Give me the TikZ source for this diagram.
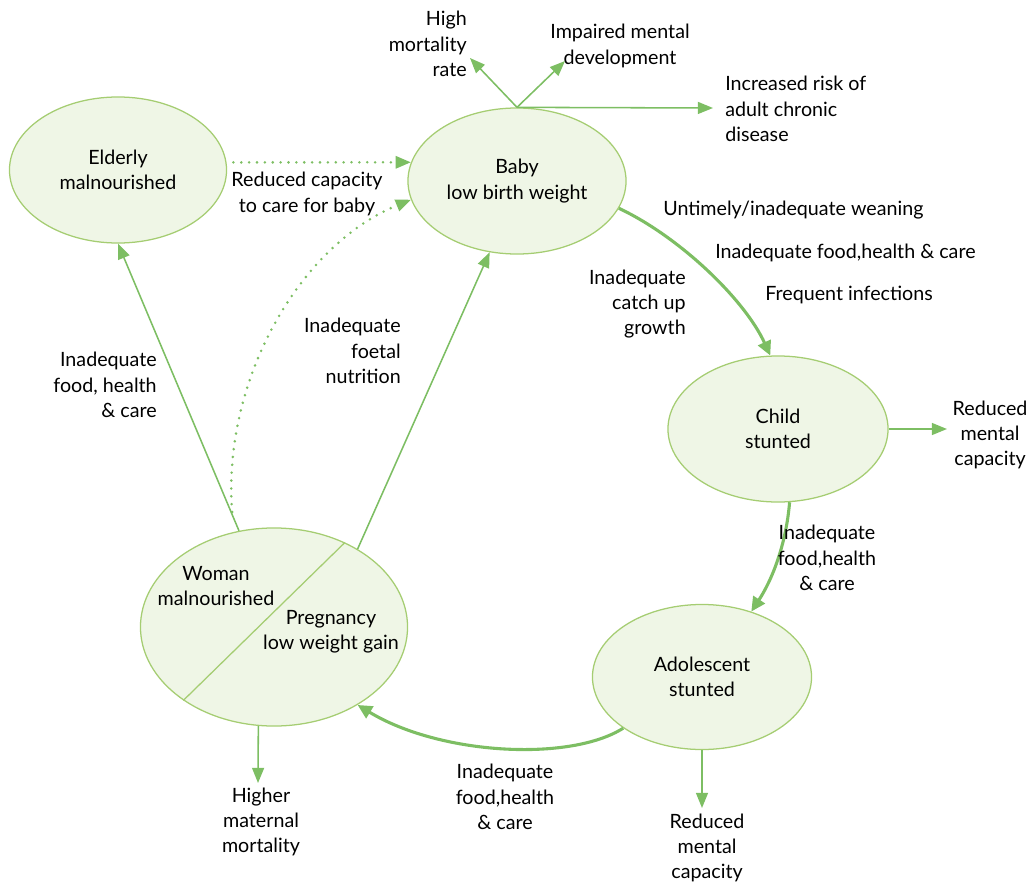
\documentclass[tikz,border=0pt]{standalone}
\usepackage{fontspec}
\setmainfont{Lato}
\usepackage{tikz}
\usetikzlibrary{arrows.meta,shapes.geometric}

\definecolor{leafline}{HTML}{A5CD72}
\definecolor{leaffill}{HTML}{EFF6E6}
\definecolor{stemgreen}{HTML}{7DBE63}

\tikzset{
  stage/.style={ellipse, draw=leafline, fill=leaffill, line width=0.9pt,
    inner sep=0pt, align=center, font=\fontsize{14}{18}\selectfont},
  lbl/.style={align=center, inner sep=0pt, font=\fontsize{14}{18}\selectfont},
  link/.style={stemgreen, line width=1.1pt,
    -{Triangle[length=0.38cm, width=0.3cm]}},
  biglink/.style={stemgreen, line width=2.2pt,
    -{Triangle[length=0.36cm, width=0.34cm]}},
  dotlink/.style={stemgreen, line width=2pt, line cap=round,
    dash pattern=on 0pt off 5.6pt,
    -{Triangle[length=0.38cm, width=0.3cm]}}
}

\begin{document}
\begin{tikzpicture}[x=0.025cm, y=-0.025cm]
    \useasboundingbox (0, 0) rectangle (1031, 887);

    % the five stages
    \node [stage, minimum width=5.425cm, minimum height=3.65cm] (elderly)
      at (118, 170) {Elderly\\malnourished};
    \node [stage, minimum width=5.45cm, minimum height=3.65cm] (baby)
      at (517, 181) {Baby\\low birth weight};
    \node [stage, minimum width=5.5cm, minimum height=3.65cm] (child)
      at (778, 429) {Child\\stunted};
    \node [stage, minimum width=5.475cm, minimum height=3.625cm] (adol)
      at (702, 677) {Adolescent\\stunted};
    \node [stage, minimum width=6.675cm, minimum height=4.95cm] (woman)
      at (274, 627) {};

    % woman split in two halves
    \draw [leafline, line width=0.9pt] (woman.50) -- (woman.219);
    \node [lbl] (womanTxt) at (216, 586) {Woman\\malnourished};
    \node [lbl] (pregTxt) at (331, 632) {Pregnancy\\low weight gain};

    % outcomes of low birth weight
    \node [lbl, anchor=east, align=right] (mort) at (467, 44) {High\\mortality\\rate};
    \node [lbl] (mental) at (620, 46) {Impaired mental\\development};
    \node [lbl, anchor=west, align=left] (chronic) at (725, 109)
      {Increased risk of\\adult chronic\\disease};

    \coordinate (mortTip) at (470, 58);
    \coordinate (mentalTip) at (565, 61);
    \coordinate (chronicTip) at (713, 108);

    \draw [link] (baby.north) -- (mortTip);
    \draw [link] (baby.north) -- (mentalTip);
    \draw [link] (baby.north) -- (chronicTip);

    % elderly and woman -> baby (dotted)
    \draw [dotlink, shorten <=0.17cm] (elderly.4) -- (baby.170);
    \draw [dotlink, shorten <=0.5cm] (woman.113)
      .. controls (222, 380) and (300, 245) .. (baby.190);
    \node [lbl] (careTxt) at (307, 194) {Reduced capacity\\to care for baby};

    % woman -> elderly
    \draw [link] (woman.110) -- (elderly.south);
    \node [lbl, anchor=east, align=right] (foodA) at (157, 385)
      {Inadequate\\food, health\\\& care};

    % woman -> baby
    \draw [link] (woman.43) -- (baby.249);
    \node [lbl, anchor=east, align=right] (foetal) at (401, 351)
      {Inadequate\\foetal\\nutrition};

    % baby -> child
    \draw [biglink] (baby.345) .. controls (680, 237) and (745, 300) .. (child.96);
    \node [lbl, anchor=west] (wean) at (663, 210) {Untimely/inadequate weaning};
    \node [lbl, anchor=west] (foodB) at (715, 253) {Inadequate food,health \& care};
    \node [lbl, anchor=west] (infect) at (765, 295) {Frequent infections};
    \node [lbl, anchor=east, align=right] (catch) at (686, 304)
      {Inadequate\\catch up\\growth};

    % child -> reduced mental capacity
    \coordinate (childTip) at (947, 429);
    \draw [link] (child.east) -- (childTip);
    \node [lbl] (rmcA) at (990, 435) {Reduced\\mental\\capacity};

    % child -> adolescent
    \draw [biglink] (child.279) .. controls (786, 545) and (772, 580) .. (adol.53);
    \node [lbl] (foodC) at (827, 558) {Inadequate\\food,health\\\& care};

    % adolescent -> reduced mental capacity
    \coordinate (adolTip) at (702, 808);
    \draw [link] (adol.south) -- (adolTip);
    \node [lbl] (rmcB) at (707, 848) {Reduced\\mental\\capacity};

    % adolescent -> woman
    \draw [biglink] (adol.213) .. controls (570, 762) and (440, 755) .. (woman.317);
    \node [lbl] (foodD) at (505, 797) {Inadequate\\food,health\\\& care};

    % woman -> higher maternal mortality
    \coordinate (womanTip) at (258, 783);
    \draw [link] (woman.261) -- (womanTip);
    \node [lbl] (maternal) at (261, 822) {Higher\\maternal\\mortality};

  \end{tikzpicture}
\end{document}
